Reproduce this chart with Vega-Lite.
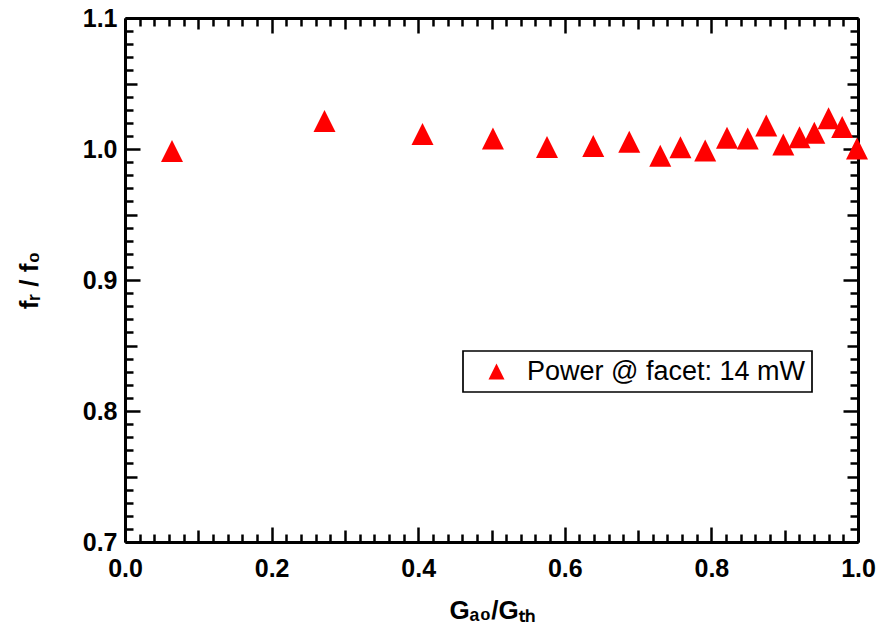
{
  "$schema": "https://vega.github.io/schema/vega-lite/v6.json",
  "width": 733,
  "height": 524,
  "autosize": "none",
  "padding": {"left": 125, "top": 18, "right": 23, "bottom": 96},
  "background": "white",
  "config": {"view": {"stroke": null}, "font": "Liberation Sans"},
  "data": {
    "values": [
      {"g": 0.0641, "f": 0.9985},
      {"g": 0.2722, "f": 1.0214},
      {"g": 0.4059, "f": 1.0115},
      {"g": 0.5020, "f": 1.0080},
      {"g": 0.5757, "f": 1.0015},
      {"g": 0.6388, "f": 1.0023},
      {"g": 0.6879, "f": 1.0055},
      {"g": 0.7302, "f": 0.9949},
      {"g": 0.7578, "f": 1.0014},
      {"g": 0.7915, "f": 0.9989},
      {"g": 0.8213, "f": 1.0085},
      {"g": 0.8495, "f": 1.0080},
      {"g": 0.8748, "f": 1.0179},
      {"g": 0.8981, "f": 1.0034},
      {"g": 0.9202, "f": 1.0090},
      {"g": 0.9404, "f": 1.0124},
      {"g": 0.9598, "f": 1.0235},
      {"g": 0.9784, "f": 1.0168},
      {"g": 0.9986, "f": 1.0004}
    ]
  },
  "layer": [
    {
      "mark": {"type": "point", "filled": true, "shape": "M-1,1L1,1L0,-1Z", "size": 484, "opacity": 1, "strokeWidth": 0},
      "encoding": {
        "x": {
          "field": "g", "type": "quantitative",
          "scale": {"domain": [0, 1], "nice": false, "zero": false},
          "axis": {
            "orient": "bottom", "tickCount": 50, "grid": false,
            "domainColor": "black", "domainWidth": 3,
            "tickColor": "black", "tickWidth": 2.5,
            "tickSize": {"condition": [
              {"test": "abs(datum.value*5-round(datum.value*5))<1e-6", "value": -15},
              {"test": "abs(datum.value*10-round(datum.value*10))<1e-6", "value": -12}
            ], "value": -8},
            "labelExpr": "abs(datum.value*5-round(datum.value*5))<1e-6 ? format(datum.value,'.1f') : ''",
            "labelFont": "Liberation Sans", "labelFontWeight": "bold", "labelFontSize": 25, "labelColor": "black",
            "labelPadding": 29, "labelOverlap": false, "labelFlush": false, "labelBound": false,
            "title": "Gₐ₀/Gₜₕ", "titleFont": "Liberation Sans", "titleFontSize": 26, "titleFontWeight": "bold", "titleColor": "black", "titlePadding": 9
          }
        },
        "y": {
          "field": "f", "type": "quantitative",
          "scale": {"domain": [0.7, 1.1], "nice": false, "zero": false},
          "axis": {
            "orient": "left", "tickCount": 40, "grid": false,
            "domainColor": "black", "domainWidth": 3,
            "tickColor": "black", "tickWidth": 2.5,
            "tickSize": {"condition": [
              {"test": "abs(datum.value*10-round(datum.value*10))<1e-6", "value": -15},
              {"test": "abs(datum.value*20-round(datum.value*20))<1e-6", "value": -12}
            ], "value": -8},
            "labelExpr": "abs(datum.value*10-round(datum.value*10))<1e-6 ? format(datum.value,'.1f') : ''",
            "labelFont": "Liberation Sans", "labelFontWeight": "bold", "labelFontSize": 25, "labelColor": "black",
            "labelPadding": 23, "labelOverlap": false, "labelFlush": false, "labelBound": false,
            "title": "fᵣ / f₀", "titleFont": "Liberation Sans", "titleFontSize": 26, "titleFontWeight": "bold", "titleColor": "black", "titlePadding": 40
          }
        },
        "color": {
          "datum": "Power @ facet: 14 mW", "type": "nominal",
          "scale": {"range": ["#ff0000"]},
          "legend": {
            "orient": "none", "legendX": 338, "legendY": 333, "title": null,
            "symbolType": "M-1,1L1,1L0,-1Z", "symbolSize": 256, "symbolStrokeWidth": 0, "symbolOpacity": 1,
            "symbolOffset": 13, "labelOffset": 17, "labelLimit": 500,
            "labelFont": "Liberation Sans", "labelFontSize": 27, "labelColor": "black",
            "padding": 7, "strokeColor": "black",
            "encode": {"legend": {"update": {"strokeWidth": {"value": 1.7}}}}
          }
        }
      }
    },
    {
      "mark": {"type": "point", "opacity": 0},
      "encoding": {
        "x": {
          "field": "g", "type": "quantitative",
          "axis": {
            "orient": "top", "tickCount": 50, "grid": false, "labels": false, "title": null,
            "domainColor": "black", "domainWidth": 3,
            "tickColor": "black", "tickWidth": 2.5,
            "tickSize": {"condition": [
              {"test": "abs(datum.value*5-round(datum.value*5))<1e-6", "value": -15},
              {"test": "abs(datum.value*10-round(datum.value*10))<1e-6", "value": -11}
            ], "value": -8}
          }
        },
        "y": {
          "field": "f", "type": "quantitative",
          "axis": {
            "orient": "right", "tickCount": 40, "grid": false, "labels": false, "title": null,
            "domainColor": "black", "domainWidth": 3,
            "tickColor": "black", "tickWidth": 2.5,
            "tickSize": {"condition": [
              {"test": "abs(datum.value*10-round(datum.value*10))<1e-6", "value": -15},
              {"test": "abs(datum.value*20-round(datum.value*20))<1e-6", "value": -11}
            ], "value": -8}
          }
        }
      }
    }
  ],
  "resolve": {"axis": {"x": "independent", "y": "independent"}}
}
